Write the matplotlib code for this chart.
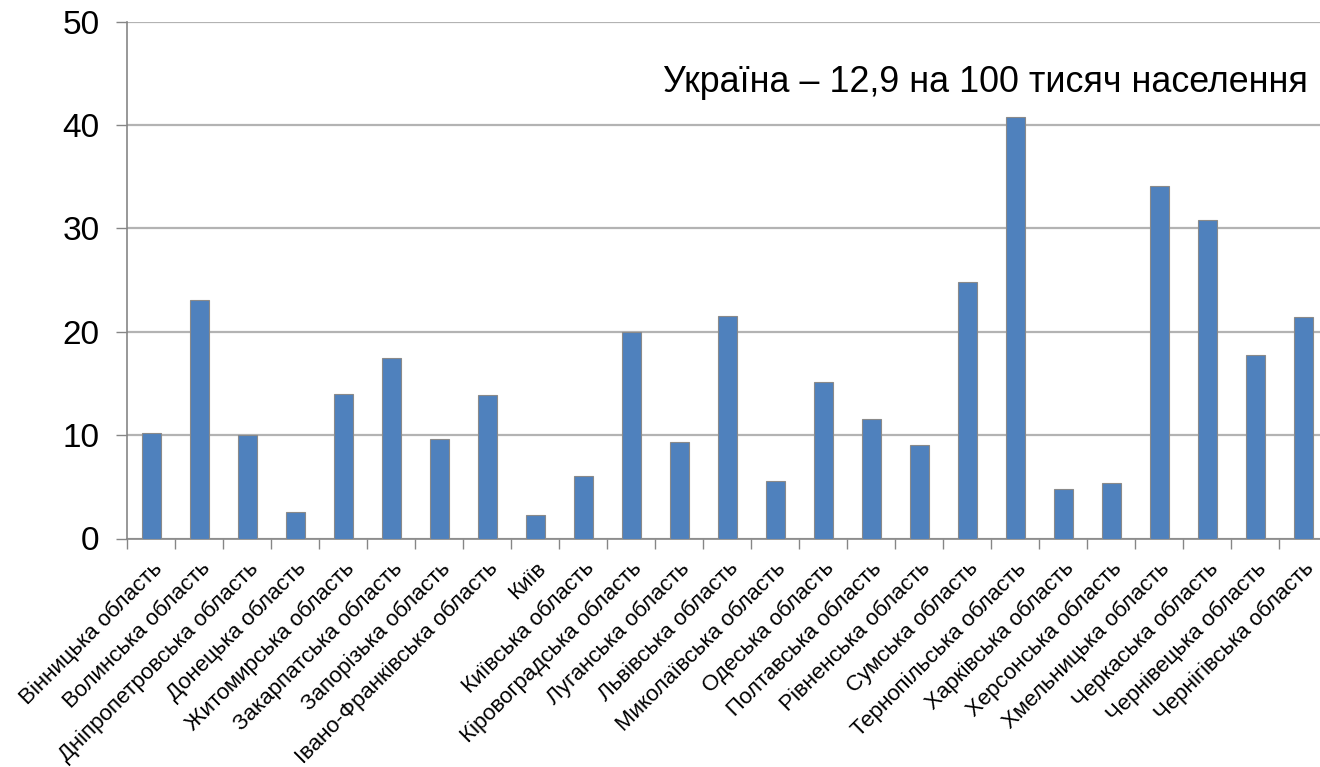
"""Захворюваність по областях України, на 100 тисяч населення (стовпчикова діаграма)."""

import matplotlib
matplotlib.use("Agg")
import matplotlib.pyplot as plt
import numpy as np

plt.rcParams["font.family"] = ["Liberation Sans", "DejaVu Sans"]

# --------------------------------------------------------------------------- #
# Data
# --------------------------------------------------------------------------- #
REGIONS = [
    "Вінницька область", "Волинська область", "Дніпропетровська область",
    "Донецька область", "Житомирська область", "Закарпатська область",
    "Запорізька область", "Івано-Франківська область", "Київ",
    "Київська область", "Кіровоградська область", "Луганська область",
    "Львівська область", "Миколаївська область", "Одеська область",
    "Полтавська область", "Рівненська область", "Сумська область",
    "Тернопільська область", "Харківська область", "Херсонська область",
    "Хмельницька область", "Черкаська область", "Чернівецька область",
    "Чернігівська область",
]
VALUES = [
    10.2, 23.1, 10.0, 2.6, 14.0, 17.5, 9.6, 13.9, 2.3,
    6.0, 20.0, 9.3, 21.5, 5.6, 15.1, 11.6, 9.0, 24.8,
    40.8, 4.8, 5.4, 34.1, 30.8, 17.7, 21.4,
]
Y_TICKS = [0, 10, 20, 30, 40, 50]
NOTE = "Україна – 12,9 на 100 тисяч населення"

BAR_COLOR = "#4f81bd"
GRID_COLOR = "#b3b3b3"
AXIS_COLOR = "#868686"

# --------------------------------------------------------------------------- #
# Figure
# --------------------------------------------------------------------------- #
W, H = 1320, 767
fig = plt.figure(figsize=(W / 100, H / 100), dpi=100)

# the plot area runs past the right edge of the picture (26 slots, last one cut)
n_slots = 26
slot_px = 48.0
left_px, base_px, top_px = 127.3, 538.5, 21.5
ax = fig.add_axes([left_px / W, (H - base_px) / H,
                   n_slots * slot_px / W, (base_px - top_px) / H])

x = np.arange(len(REGIONS))
ax.bar(x, VALUES, width=0.4, color=BAR_COLOR, edgecolor="#8a8a8a",
       linewidth=0.8, zorder=3)

ax.set_xlim(-0.5, n_slots - 0.5)
ax.set_ylim(0, 50)
ax.set_yticks(Y_TICKS)
ax.yaxis.grid(True, color=GRID_COLOR, linewidth=1.6, zorder=0)
ax.set_axisbelow(True)

for side in ("top", "right"):
    ax.spines[side].set_visible(False)
for side in ("left", "bottom"):
    ax.spines[side].set_color(AXIS_COLOR)
    ax.spines[side].set_linewidth(1.2)

ax.tick_params(axis="y", length=8, width=1.0, color=AXIS_COLOR,
               labelsize=24, pad=12)

# ticks sit between categories, labels sit under the bars
ax.set_xticks(np.arange(n_slots) - 0.5)
ax.set_xticklabels([])
ax.tick_params(axis="x", which="major", length=7, width=1.0, color=AXIS_COLOR)
ax.set_xticks(x, minor=True)
ax.set_xticklabels(REGIONS, minor=True, rotation=45, ha="right",
                   rotation_mode="anchor", fontsize=16)
ax.tick_params(axis="x", which="minor", length=0, pad=14)

fig.text(663 / W, (H - 92) / H, NOTE, fontsize=25.8, ha="left",
         va="baseline")

fig.savefig("out.png", dpi=100)
